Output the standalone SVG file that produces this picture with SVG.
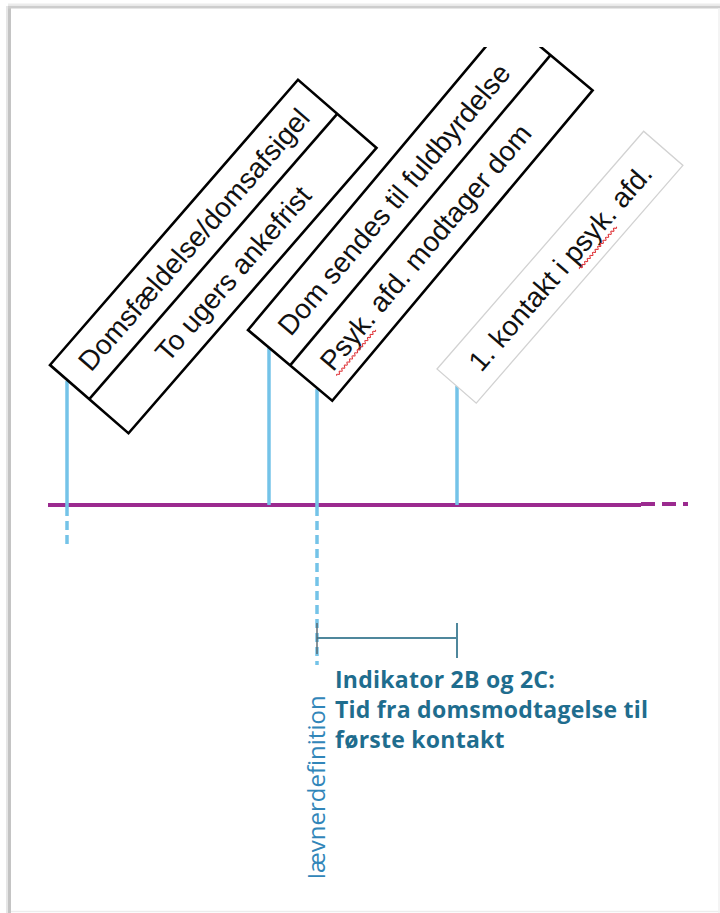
<svg xmlns="http://www.w3.org/2000/svg" width="720" height="913" viewBox="0 0 720 913">
  <defs>
    <style>
      .box { fill: #ffffff; stroke: #000000; stroke-width: 2.6; }
      .div { stroke: #000000; stroke-width: 2.6; }
      .lbl { font-family: "Liberation Sans", Arial, sans-serif; font-size: 28px; fill: #111111; }
      .tick { stroke: #74c3e8; stroke-width: 3.5; fill: none; }
      .tickd { stroke: #74c3e8; stroke-width: 3.5; fill: none; stroke-dasharray: 9 5; }
      .squig { stroke: #e0393e; stroke-width: 1.1; fill: none; }
      .ind { font-family: "Open Sans", "Noto Sans", sans-serif; font-weight: 700; font-size: 23px; letter-spacing: 0.25px; fill: #1f6d8e; }
    </style>
    <clipPath id="clipTop" clipPathUnits="userSpaceOnUse">
      <rect x="0" y="47" width="720" height="866"/>
    </clipPath>
    <clipPath id="clipVert" clipPathUnits="userSpaceOnUse">
      <rect x="290" y="680" width="60" height="197"/>
    </clipPath>
  </defs>

  <!-- page frame -->
  <rect x="0" y="0" width="720" height="913" fill="#ffffff"/>
  <g id="frame">
    <line x1="9.5" y1="6" x2="9.5" y2="913" stroke="#c4c4c4" stroke-width="3"/>
    <line x1="7" y1="6" x2="7" y2="913" stroke="#e6e6e6" stroke-width="2"/>
    <line x1="8" y1="7" x2="720" y2="7" stroke="#cdcdcd" stroke-width="3"/>
    <line x1="8" y1="4.5" x2="720" y2="4.5" stroke="#ececec" stroke-width="2"/>
    <line x1="11" y1="911.5" x2="720" y2="911.5" stroke="#ededed" stroke-width="1.5"/>
    <line x1="719" y1="8" x2="719" y2="913" stroke="#f0f0f0" stroke-width="1.5"/>
  </g>

  <!-- connectors: timeline, drop lines, interval bracket -->
  <g id="connectors">
    <line x1="48" y1="505" x2="641" y2="505" stroke="#9b2a8f" stroke-width="4"/>
    <line x1="641" y1="504" x2="688" y2="504" stroke="#9b2a8f" stroke-width="4" stroke-dasharray="14 7"/>

    <line class="tick" x1="67" y1="381" x2="67" y2="507"/>
    <line class="tickd" x1="67" y1="507" x2="67" y2="548"/>
    <line class="tick" x1="269" y1="348" x2="269" y2="505"/>
    <line class="tick" x1="317" y1="389" x2="317" y2="507"/>
    <line class="tickd" x1="317" y1="507" x2="317" y2="665"/>
    <line class="tick" x1="457" y1="386" x2="457" y2="505"/>

    <line x1="317" y1="638" x2="457" y2="638" stroke="#4f879c" stroke-width="2"/>
    <line x1="457" y1="623" x2="457" y2="658" stroke="#4f879c" stroke-width="2"/>
    <line x1="317" y1="623" x2="317" y2="654" stroke="#55646c" stroke-width="1.4"/>
  </g>

  <g id="node-domsfaeldelse" transform="translate(50,365) rotate(-49)">
    <rect class="box" x="0" y="0" width="378" height="104"/>
    <line class="div" x1="0" y1="52" x2="378" y2="52"/>
    <text class="lbl" x="189" y="36" text-anchor="middle">Domsfældelse/domsafsigel</text>
    <text class="lbl" x="189" y="88" text-anchor="middle">To ugers ankefrist</text>
  </g>

  <g id="node-dom-sendes" clip-path="url(#clipTop)">
    <g transform="translate(248,330) rotate(-50)">
      <rect class="box" x="0" y="0" width="405" height="110"/>
      <line class="div" x1="0" y1="55" x2="405" y2="55" stroke-width="4.5"/>
      <text class="lbl" x="22" y="37.5">Dom sendes til fuldbyrdelse</text>
      <text class="lbl" x="22" y="92.5">Psyk. afd. modtager dom</text>
      <path class="squig" d="M22 97.5 q1 -2 2 0 t2 0 t2 0 t2 0 t2 0 t2 0 t2 0 t2 0 t2 0 t2 0 t2 0 t2 0 t2 0 t2 0 t2 0 t2 0 t2 0 t2 0 t2 0 t2 0 t2 0 t2 0 t2 0 t2 0 t2 0 t2 0 t2 0 t2 0 t2 0 t2 0"/>
    </g>
  </g>

  <g id="node-kontakt" transform="translate(437,369) rotate(-49)">
    <rect x="0" y="0" width="315" height="52" fill="#ffffff" stroke="#d2d2d2" stroke-width="1.3"/>
    <text class="lbl" x="157.5" y="36" text-anchor="middle">1. kontakt i psyk. afd.</text>
    <path class="squig" d="M169 42 q1 -2 2 0 t2 0 t2 0 t2 0 t2 0 t2 0 t2 0 t2 0 t2 0 t2 0 t2 0 t2 0 t2 0 t2 0 t2 0 t2 0 t2 0 t2 0 t2 0 t2 0 t2 0 t2 0 t2 0 t2 0 t2 0 t2 0 t2 0 t2 0"/>
  </g>

  <g id="label-indikator">
    <text class="ind" x="335" y="688">Indikator 2B og 2C:</text>
    <text class="ind" x="335" y="718">Tid fra domsmodtagelse til</text>
    <text class="ind" x="335" y="748">første kontakt</text>
  </g>

  <g id="label-naevner" clip-path="url(#clipVert)">
    <text transform="translate(325,891) rotate(-90)" x="0" y="0" font-family="'Open Sans', 'Noto Sans', sans-serif" font-size="24" fill="#3186b9">Nævnerdefinition</text>
  </g>
</svg>
